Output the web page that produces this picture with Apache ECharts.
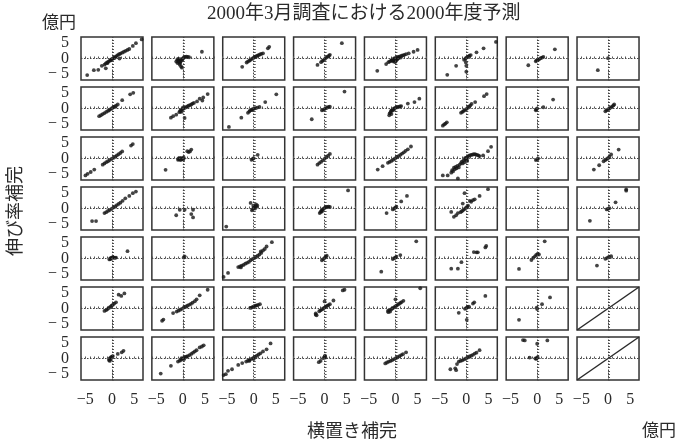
<!DOCTYPE html>
<html><head><meta charset="utf-8">
<script src="https://cdn.jsdelivr.net/npm/echarts@6/dist/echarts.min.js"></script>
<style>html,body{margin:0;padding:0;background:#fff}#c{width:681px;height:442px}</style>
</head><body><div id="c"></div>
<script>
// ---- text ----
const titleText = '2000年3月調査における2000年度予測';
const unitText = '億円';
const yAxisName = '伸び率補完';
const xAxisName = '横置き補完';
// ---- axes ----
const axisMin = -7, axisMax = 7;
const tickLabels = [-5, 0, 5];
// ---- data: panel r_c = [x (横置き補完), y (伸び率補完)] ----
const p1_1 = [[-5.6,-5.4],[-4.1,-3.8],[-3.1,-3.7],[-2.3,-2.4],[-1.4,-3.2],[-1.7,-2.0],[-1.4,-1.6],[-1.1,-1.3],[-0.8,-1.0],[-0.5,-0.7],[-0.2,-0.4],[0.1,-0.1],[0.4,0.2],[0.7,0.5],[1.0,0.8],[1.3,1.1],[1.6,1.4],[1.9,1.6],[2.3,1.9],[2.7,2.2],[3.1,2.5],[3.5,2.8],[3.9,3.1],[4.7,4.1],[5.4,5.0],[6.7,6.2],[1.7,0.0],[-0.3,-0.6],[0.0,-0.2],[0.5,0.1],[-1.0,-1.5]];
const p1_2 = [[-1.5,-1.0],[-1.3,-0.5],[-1.2,-1.5],[-1.0,-0.3],[-0.9,-1.2],[-0.8,-0.8],[-0.7,-2.0],[-0.6,-0.2],[-0.5,-1.0],[-0.4,-2.6],[-0.3,-0.6],[-0.2,-3.0],[-0.1,-0.3],[0.0,0.0],[0.2,0.3],[0.5,0.5],[0.8,0.6],[1.1,0.5],[1.4,0.4],[-1.1,-0.1],[-0.6,-1.5],[4.3,2.2]];
const p1_3 = [[-2.6,-2.7],[-1.6,-1.3],[-1.3,-1.0],[-1.0,-0.7],[-0.7,-0.4],[-0.4,-0.1],[-0.1,0.2],[0.2,0.4],[0.5,0.7],[0.8,0.9],[1.1,1.1],[1.4,1.3],[1.7,1.5],[2.1,1.7],[3.2,3.3],[3.5,3.8]];
const p1_4 = [[-1.6,-2.1],[-0.8,-1.2],[-0.5,-0.8],[-0.2,-0.5],[0.1,-0.1],[0.4,0.3],[0.7,0.6],[1.0,0.9],[1.2,1.2],[3.9,5.0]];
const p1_5 = [[-4.1,-4.0],[-2.1,-1.8],[-1.6,-1.2],[-1.3,-1.0],[-1.0,-0.7],[-0.8,-0.5],[-0.6,-0.9],[-0.4,-0.2],[-0.3,-0.6],[-0.1,-1.2],[0.0,-0.1],[0.1,-0.8],[0.2,0.2],[0.4,-0.3],[0.5,0.4],[0.7,0.1],[0.8,0.5],[1.0,0.7],[1.2,0.3],[1.4,0.9],[1.7,1.0],[2.0,1.2],[2.4,1.4],[-0.5,-0.4],[0.3,-0.1],[-0.2,0.1],[3.0,1.7],[4.1,2.2],[5.0,2.8],[0.0,-0.5],[-0.7,-0.3]];
const p1_6 = [[-4.3,-5.3],[-2.3,-2.4],[-0.5,-0.4],[-0.2,-0.1],[0.0,0.3],[0.4,0.6],[0.7,0.9],[1.0,1.1],[-0.1,-1.3],[0.0,-2.4],[0.0,-4.3],[2.3,2.0],[3.9,3.3],[6.7,5.4]];
const p1_7 = [[-2.0,-2.2],[-0.3,-0.9],[-0.1,-0.6],[0.2,-0.4],[0.5,-0.2],[0.8,0.1],[1.1,0.3],[1.4,0.5],[4.0,3.0]];
const p1_8 = [[0.0,0.1],[-2.3,-3.8]];
const p2_1 = [[-2.9,-2.5],[-2.5,-2.2],[-2.1,-1.8],[-1.7,-1.5],[-1.3,-1.1],[-0.9,-0.8],[-0.6,-0.5],[-0.3,-0.2],[0.0,0.1],[0.3,0.4],[0.6,0.6],[0.9,0.9],[1.3,1.3],[2.3,2.7],[4.1,4.6],[4.8,5.1]];
const p2_2 = [[-2.7,-3.0],[-2.2,-2.5],[-1.5,-2.0],[-0.8,-1.2],[-0.5,-0.6],[-0.2,-0.3],[0.1,-0.1],[0.4,0.2],[0.7,0.4],[1.0,0.7],[1.3,0.9],[1.6,1.1],[1.9,1.3],[2.2,1.6],[2.5,1.8],[-0.3,-1.1],[0.4,-3.1],[3.2,2.3],[3.8,3.2],[4.4,2.6],[4.6,3.6],[5.6,4.7],[0.0,0.3],[-0.6,-0.9]];
const p2_3 = [[-5.6,-6.0],[-2.8,-3.0],[-1.3,-1.4],[-1.0,-1.0],[-0.8,-0.6],[-0.5,-0.4],[-0.2,-0.2],[0.1,0.0],[0.4,0.1],[0.8,0.3],[1.3,0.5],[-0.3,-0.5],[2.6,2.1],[5.1,4.6]];
const p2_4 = [[-2.9,-3.5],[-0.6,-0.6],[-0.3,-0.4],[0.0,-0.2],[0.3,0.1],[0.6,0.3],[0.9,0.5],[1.2,0.6],[4.5,5.5]];
const p2_5 = [[-1.4,-2.2],[-1.3,-1.6],[-1.1,-1.2],[-1.0,-0.8],[-0.8,-0.5],[-0.6,-0.3],[-0.4,-0.1],[-0.2,0.1],[0.1,0.3],[0.4,0.4],[0.7,0.5],[1.0,0.7],[1.3,0.8],[-0.9,-1.8],[-0.5,-0.6],[2.8,1.6],[4.3,2.1],[5.4,3.2]];
const p2_6 = [[-5.3,-5.6],[-5.0,-5.2],[-4.7,-4.9],[-4.4,-4.5],[-1.2,-1.4],[-0.9,-1.1],[-0.6,-0.8],[-0.3,-0.5],[0.0,-0.2],[0.3,0.2],[0.6,0.6],[0.9,1.0],[1.2,1.5],[2.0,2.1],[4.0,4.0],[4.6,4.7]];
const p2_7 = [[-0.3,-0.6],[-0.2,-0.3],[0.0,0.0],[1.4,0.4],[3.6,2.9]];
const p2_8 = [[-0.6,-0.9],[-0.3,-0.6],[0.0,-0.3],[0.3,0.0],[0.6,0.3],[0.9,0.6],[1.2,1.0],[1.4,1.3]];
const p3_1 = [[-6.0,-5.5],[-5.5,-5.0],[-4.8,-4.4],[-4.0,-3.6],[-2.1,-2.0],[-1.7,-1.6],[-1.3,-1.2],[-0.9,-0.9],[-0.5,-0.5],[-0.1,-0.1],[0.3,0.2],[0.7,0.6],[1.1,1.0],[1.5,1.4],[1.9,1.8],[2.3,2.3],[4.3,4.2],[4.7,4.7]];
const p3_2 = [[-3.9,-3.7],[-1.1,-0.4],[-1.0,0.0],[-0.8,-0.3],[-0.6,0.2],[-0.5,-0.5],[-0.3,0.0],[-0.2,-0.2],[0.0,0.1],[0.1,-0.3],[1.0,2.4],[1.3,2.1],[1.6,2.3],[1.9,2.9],[0.2,0.3]];
const p3_3 = [[-0.5,-0.4],[-0.2,-0.1],[0.0,0.1],[0.9,1.2]];
const p3_4 = [[-1.6,-2.0],[-1.2,-1.5],[-0.8,-1.1],[-0.4,-0.6],[0.0,-0.1],[0.4,0.4],[0.8,0.9],[1.2,1.5]];
const p3_5 = [[-4.0,-3.6],[-2.9,-2.5],[-1.7,-1.4],[-1.3,-1.1],[-0.9,-0.8],[-0.5,-0.4],[-0.1,0.0],[0.3,0.4],[0.7,0.8],[1.1,1.2],[1.5,1.6],[1.9,2.0],[2.3,2.5],[2.8,3.0],[3.5,3.9]];
const p3_6 = [[-5.3,-5.5],[-4.2,-5.5],[-1.9,-6.5],[-3.4,-4.6],[-3.2,-3.8],[-3.0,-4.2],[-2.8,-3.0],[-2.6,-3.5],[-2.4,-2.7],[-2.2,-3.2],[-2.0,-2.4],[-1.7,-2.9],[-1.5,-2.0],[-1.2,-1.5],[-1.0,-1.0],[-0.8,-1.6],[-0.6,-0.6],[-0.4,-1.2],[-0.2,-0.2],[0.0,0.3],[0.2,-0.8],[0.3,0.6],[0.6,0.9],[0.9,1.1],[1.2,1.2],[1.5,1.3],[1.8,1.4],[2.1,1.3],[2.4,1.2],[2.7,1.0],[3.0,0.8],[-0.3,0.1],[0.1,-0.4],[3.8,1.0],[4.9,2.4],[5.6,3.8]];
const p3_7 = [[-0.3,-0.5],[0.0,-0.3],[0.2,0.0]];
const p3_8 = [[-3.2,-3.6],[-2.0,-2.2],[-1.0,-0.9],[-0.6,-0.5],[-0.3,-0.2],[0.0,0.1],[0.3,0.5],[0.7,1.3],[2.4,2.9]];
const p4_1 = [[-4.5,-4.1],[-3.6,-4.1],[-1.7,-1.5],[-1.3,-1.2],[-0.9,-0.8],[-0.5,-0.5],[-0.1,-0.1],[0.3,0.3],[0.7,0.7],[1.1,1.1],[1.5,1.5],[1.9,1.9],[2.4,2.5],[3.0,3.3],[3.9,4.1],[4.7,5.0],[5.4,5.5]];
const p4_2 = [[-1.5,-2.2],[-0.7,-0.4],[0.4,-0.4],[2.3,-0.4],[1.9,-1.8],[2.3,-2.9]];
const p4_3 = [[-6.2,-5.9],[-0.7,1.8],[-0.4,-0.6],[-0.2,-0.2],[0.0,0.2],[0.2,0.5],[0.4,0.8],[0.6,0.6],[0.8,1.0],[0.3,0.0],[-0.1,0.9],[0.5,1.3]];
const p4_4 = [[-1.1,-1.5],[-0.9,-1.1],[-0.7,-0.7],[-0.5,-0.4],[-0.3,-0.1],[0.0,0.2],[0.3,0.4],[0.6,0.5],[0.9,0.6],[1.2,0.5],[-0.6,-1.0],[5.3,5.9]];
const p4_5 = [[-2.0,-1.5],[-0.6,-0.3],[-0.3,0.0],[0.0,0.3],[0.2,0.6],[1.3,2.3],[2.6,4.1]];
const p4_6 = [[-3.4,-1.1],[-2.8,-2.7],[-2.3,-2.2],[-1.9,-1.5],[-1.3,-1.2],[-1.0,-0.9],[-0.7,-0.5],[-0.4,-0.2],[-0.1,0.2],[0.2,0.6],[0.4,0.9],[-0.4,5.0],[-0.8,1.6],[0.8,2.5],[1.1,2.2],[1.5,2.7],[1.9,3.0],[3.0,4.1],[4.9,6.3]];
const p4_7 = [];
const p4_8 = [[-4.1,-4.0],[-0.3,-0.3],[0.0,-0.1],[0.3,0.1],[1.7,2.0],[4.1,5.8],[4.1,6.2]];
const p5_1 = [[-0.6,-0.3],[-0.4,0.0],[-0.2,0.2],[0.0,0.3],[0.2,0.4],[0.4,0.3],[0.6,0.2],[0.9,0.3],[-0.3,-0.2],[3.5,2.4]];
const p5_2 = [[0.2,0.3],[0.4,0.7]];
const p5_3 = [[-6.8,-6.0],[-5.8,-4.7],[-3.5,-2.8],[-3.1,-2.6],[-2.7,-2.3],[-2.3,-2.1],[-1.9,-1.7],[-1.5,-1.4],[-1.1,-1.1],[-0.7,-0.6],[-0.3,-0.2],[0.1,0.1],[0.5,0.5],[0.9,0.9],[1.3,1.3],[1.7,1.8],[2.1,2.6],[2.5,3.1],[2.9,3.9],[4.1,5.3],[-2.9,-2.9],[1.6,2.3]];
const p5_4 = [[-0.6,-0.6],[-0.3,-0.2],[0.0,0.2],[0.3,0.6],[0.5,0.9]];
const p5_5 = [[-3.2,-4.3],[-0.6,-0.2],[-0.3,0.1],[0.0,0.3],[0.2,0.6],[1.1,1.1],[4.7,5.6]];
const p5_6 = [[-3.4,-3.3],[-1.9,-3.3],[-1.1,-1.2],[1.7,2.1],[2.3,2.0],[2.6,2.0],[4.3,3.6],[4.5,4.1]];
const p5_7 = [[-4.1,-3.4],[-1.3,-0.5],[-0.9,0.2],[-0.5,0.7],[-0.2,1.2],[0.1,1.5],[0.4,1.3],[1.7,5.6]];
const p5_8 = [[-2.5,-2.3],[-0.6,-0.1],[-0.2,0.2],[0.2,0.5],[0.7,0.8]];
const p6_1 = [[-1.7,-0.8],[-1.3,-0.5],[-1.0,-0.2],[-0.7,0.2],[-0.4,0.5],[-0.1,0.9],[0.2,1.2],[0.5,1.6],[0.9,2.0],[1.5,4.5],[2.1,4.1],[2.8,4.9]];
const p6_2 = [[-4.7,-4.0],[-4.4,-3.6],[-2.2,-1.5],[-1.4,-1.0],[-1.0,-0.7],[-0.6,-0.4],[-0.2,-0.1],[0.2,0.3],[0.6,0.6],[1.0,0.9],[1.4,1.2],[1.8,1.5],[2.2,1.9],[2.7,2.4],[3.1,3.0],[3.8,4.3],[5.6,6.1]];
const p6_3 = [[-0.8,0.2],[-0.5,0.3],[-0.2,0.5],[0.1,0.7],[0.4,0.9],[0.7,1.0],[1.0,1.2],[1.4,1.4]];
const p6_4 = [[-2.0,-2.0],[-2.0,-1.6],[-1.8,-2.2],[-1.2,-0.9],[-0.9,-0.6],[-0.6,-0.3],[-0.3,0.0],[0.0,0.3],[0.3,0.6],[0.6,0.9],[0.9,1.1],[1.2,1.4],[0.0,2.3],[2.0,2.6],[4.1,5.9],[4.5,6.1]];
const p6_5 = [[-1.7,-0.8],[-1.6,-1.2],[-1.4,-0.5],[-1.2,-1.0],[-1.0,-0.3],[-0.7,0.0],[-0.4,0.3],[-0.1,0.6],[0.2,0.9],[0.5,1.2],[0.8,1.5],[1.1,1.8],[1.4,2.1],[1.8,2.5],[0.0,3.0],[5.6,6.6]];
const p6_6 = [[-1.7,-1.4],[-0.3,-0.1],[0.0,0.2],[0.3,0.4],[0.6,0.6],[1.5,1.6],[1.8,2.0],[0.1,-3.7],[4.3,4.1]];
const p6_7 = [[-4.1,-3.7],[-0.1,0.3],[0.0,-0.2],[1.1,1.4],[2.9,3.6]];
const p7_1 = [[-0.7,-0.5],[-0.6,-0.1],[-0.4,0.2],[-0.2,0.4],[0.0,0.6],[0.2,0.8],[-0.5,-0.8],[-0.3,-0.3],[1.3,1.5],[2.2,2.0],[2.6,2.5]];
const p7_2 = [[-5.0,-4.9],[-2.7,-2.4],[-1.1,-1.0],[-0.7,-0.7],[-0.4,-0.4],[-0.1,-0.1],[0.2,0.2],[0.5,0.4],[0.8,0.6],[1.1,0.8],[1.5,1.1],[1.9,1.5],[2.3,1.9],[2.7,2.3],[3.1,2.7],[3.8,3.6],[4.3,3.9],[4.7,4.3],[-0.3,0.1],[0.3,-0.2]];
const p7_3 = [[-6.8,-5.4],[-6.3,-5.1],[-5.8,-4.0],[-4.9,-3.5],[-3.5,-2.1],[-2.6,-1.5],[-1.7,-1.0],[-1.3,-0.7],[-0.9,-0.4],[-0.5,-0.1],[-0.1,0.2],[0.3,0.5],[0.7,0.9],[1.1,1.3],[1.5,1.7],[2.1,2.3],[2.9,3.0],[3.8,4.9],[-1.0,-0.8],[0.0,-0.2]];
const p7_4 = [[-1.3,-1.2],[-0.9,-0.8],[-0.3,0.1],[0.0,0.6],[0.2,0.3],[0.1,0.9]];
const p7_5 = [[-2.3,-1.6],[-1.9,-1.3],[-1.5,-1.0],[-1.1,-0.8],[-0.7,-0.5],[-0.3,-0.2],[0.1,0.1],[0.5,0.4],[0.9,0.8],[1.3,1.1],[1.7,1.4],[2.4,2.0]];
const p7_6 = [[-3.6,-3.5],[-2.5,-3.2],[-2.3,-3.8],[-2.1,-1.8],[-1.7,-1.0],[-1.3,-0.8],[-0.9,-0.6],[-0.5,-0.3],[-0.1,0.0],[0.3,0.3],[0.7,0.7],[1.1,0.9],[1.5,1.2],[1.9,1.6],[2.3,1.9],[3.0,2.7]];
const p7_7 = [[-3.2,6.0],[-2.8,5.9],[0.0,4.8],[2.3,5.9],[-1.7,0.3],[-0.4,0.0],[-0.1,0.1],[0.1,0.4],[-0.2,-0.1]];
const diagonal = [[-7,-7],[7,7]];   // identity line shown in the two diagonal cells

const panels = [
  [p1_1,p1_2,p1_3,p1_4,p1_5,p1_6,p1_7,p1_8],
  [p2_1,p2_2,p2_3,p2_4,p2_5,p2_6,p2_7,p2_8],
  [p3_1,p3_2,p3_3,p3_4,p3_5,p3_6,p3_7,p3_8],
  [p4_1,p4_2,p4_3,p4_4,p4_5,p4_6,p4_7,p4_8],
  [p5_1,p5_2,p5_3,p5_4,p5_5,p5_6,p5_7,p5_8],
  [p6_1,p6_2,p6_3,p6_4,p6_5,p6_6,p6_7,'diag'],
  [p7_1,p7_2,p7_3,p7_4,p7_5,p7_6,p7_7,'diag']
];

// ---- layout ----
const nRows = 7, nCols = 8;
const gLeft = 81, gTop = 37, cellW = 62, cellH = 43, pitchX = 70.86, pitchY = 50;
const serif = '"Liberation Serif","DejaVu Serif",serif';
const jp = '"Noto Sans CJK JP","Noto Sans CJK SC",sans-serif';
const ink = '#2a2a2a';

function fmt(v){
  if (tickLabels.indexOf(v) < 0) return '';
  return v < 0 ? '−' + Math.abs(v) + '{h|−}' : String(v);
}

const grids = [], xAxes = [], yAxes = [], series = [];
for (let r = 0; r < nRows; r++) {
  for (let c = 0; c < nCols; c++) {
    const i = r * nCols + c;
    grids.push({left: gLeft + c * pitchX, top: gTop + r * pitchY, width: cellW, height: cellH,
      show: true, borderColor: '#333', borderWidth: 1.5, backgroundColor: '#fff'});
    xAxes.push({gridIndex: i, type: 'value', min: axisMin, max: axisMax, interval: 1,
      axisLine: {show: false}, splitLine: {show: false},
      axisTick: {show: true, inside: true, length: 2, lineStyle: {color: '#555', width: 1}},
      axisLabel: {show: r === nRows - 1, formatter: fmt, fontFamily: serif, fontSize: 16, color: ink, margin: 12,
        rich: {h: {color: 'transparent', fontFamily: serif, fontSize: 16}}}});
    yAxes.push({gridIndex: i, type: 'value', min: axisMin, max: axisMax, interval: 1,
      axisLine: {show: false}, splitLine: {show: false},
      axisTick: {show: true, inside: true, length: 2, lineStyle: {color: '#555', width: 1}},
      axisLabel: {show: c === 0, formatter: v => tickLabels.indexOf(v) < 0 ? '' : (v < 0 ? '− ' + Math.abs(v) : String(v)),
        fontFamily: serif, fontSize: 16, color: ink, margin: 12}});
    const d = panels[r][c];
    const zero = {silent: true, symbol: ['none', 'none'], label: {show: false}, animation: false,
      lineStyle: {type: [1.5, 1.5], color: '#444', width: 1}, data: [{xAxis: 0}, {yAxis: 0}]};
    if (d === 'diag') {
      series.push({type: 'line', xAxisIndex: i, yAxisIndex: i, data: diagonal, showSymbol: false,
        lineStyle: {color: ink, width: 1.5}, animation: false, markLine: zero, silent: true});
    } else {
      series.push({type: 'scatter', xAxisIndex: i, yAxisIndex: i, data: d, symbolSize: 3.8,
        itemStyle: {color: '#151515'}, animation: false, markLine: zero, silent: true});
    }
  }
}

const chart = echarts.init(document.getElementById('c'), null, {renderer: 'canvas'});
chart.setOption({
  backgroundColor: '#fff',
  animation: false,
  grid: grids, xAxis: xAxes, yAxis: yAxes, series: series,
  graphic: [
    {type: 'text', left: 207, top: 5, style: {text: titleText, fontFamily: serif + ',' + jp, fontSize: 19, fill: ink}},
    {type: 'text', left: 42, top: 13, style: {text: unitText, fontFamily: jp, fontSize: 17, fill: ink}},
    {type: 'text', left: 642, top: 421, style: {text: unitText, fontFamily: jp, fontSize: 17, fill: ink}},
    {type: 'text', left: 307, top: 421, style: {text: xAxisName, fontFamily: jp, fontSize: 18, fill: ink}},
    {type: 'text', x: 14, y: 211, rotation: Math.PI / 2,
      style: {text: yAxisName, fontFamily: jp, fontSize: 18, fill: ink, align: 'center', verticalAlign: 'middle'}}
  ]
});
</script>
</body></html>
